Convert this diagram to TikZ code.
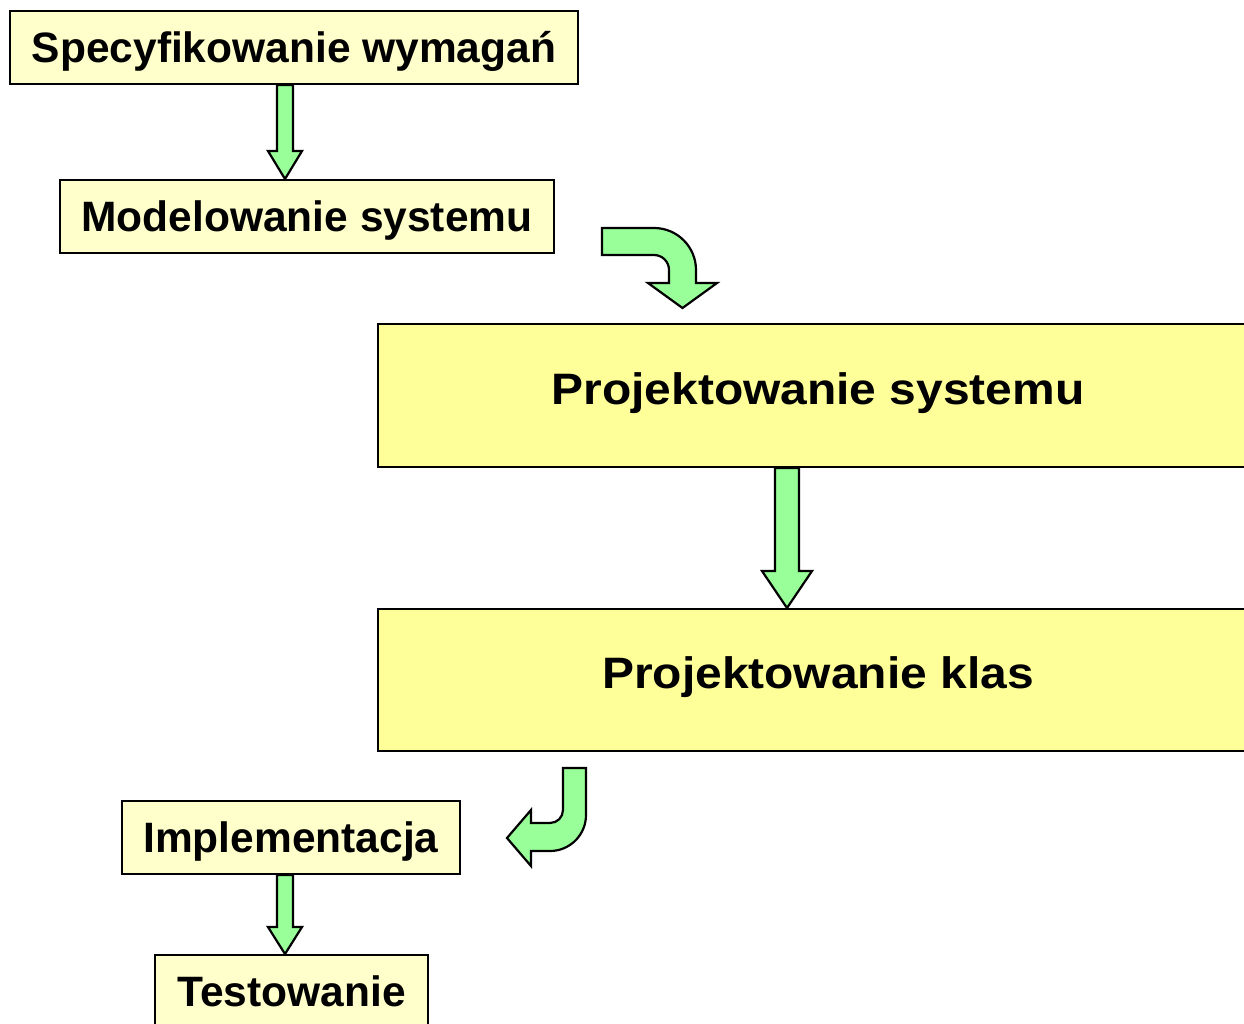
\documentclass[tikz,border=0pt]{standalone}
\usepackage{fontspec}
\setmainfont{Liberation Sans}
\newfontfamily\widesans[FakeStretch=1.09]{Liberation Sans}
\usetikzlibrary{calc}
\definecolor{boxpale}{HTML}{FFFFCC}
\definecolor{boxbig}{HTML}{FFFF99}
\definecolor{flowgreen}{HTML}{99FF99}
\begin{document}
\begin{tikzpicture}[x=1pt,y=-1pt,
  stage/.style={draw=black,line width=2pt,fill=boxpale,inner sep=0pt,
    minimum height=73pt,text height=30.4pt,text depth=0pt,
    font=\bfseries\fontsize{42.5}{48}\selectfont},
  bigstage/.style={draw=black,line width=2pt,fill=boxbig,inner sep=0pt,
    text height=31.5pt,text depth=14pt,
    font=\widesans\bfseries\fontsize{44}{50}\selectfont},
  garrow/.style={draw=black,line width=2.2pt,fill=flowgreen,line join=miter}]
\useasboundingbox (0,0) rectangle (1244,1024);
\clip (0,0) rectangle (1244,1024);

% process stages
\node[stage,minimum width=568pt] (spec) at (294,47.5) {Specyfikowanie wymagań};
\node[stage,minimum width=494pt] (mod) at (307,216.5) {Modelowanie systemu};
\node[bigstage,minimum width=880pt,minimum height=143pt] (psys) at (818,395.5) {Projektowanie systemu};
\node[bigstage,minimum width=880pt,minimum height=142pt] (pkl) at (818,680) {Projektowanie klas};
\node[stage,minimum width=338pt] (impl) at (291,837.5) {Implementacja};
\node[stage,minimum width=273pt] (test) at (291.5,991.5) {Testowanie};

% straight flow arrows
\draw[garrow] (spec.south -| 277,0) -- (spec.south -| 293,0)
  -- ($(mod.north -| 293,0)+(0,-28)$) -- ($(mod.north -| 302,0)+(0,-28)$)
  -- (mod.north -| 285,0)
  -- ($(mod.north -| 268,0)+(0,-28)$) -- ($(mod.north -| 277,0)+(0,-28)$) -- cycle;
\draw[garrow] (psys.south -| 775,0) -- (psys.south -| 799,0)
  -- ($(pkl.north -| 799,0)+(0,-37)$) -- ($(pkl.north -| 812,0)+(0,-37)$)
  -- (pkl.north -| 787,0)
  -- ($(pkl.north -| 762,0)+(0,-37)$) -- ($(pkl.north -| 775,0)+(0,-37)$) -- cycle;
\draw[garrow] (impl.south -| 277,0) -- (impl.south -| 293,0)
  -- ($(test.north -| 293,0)+(0,-27)$) -- ($(test.north -| 302,0)+(0,-27)$)
  -- (test.north -| 285,0)
  -- ($(test.north -| 268,0)+(0,-27)$) -- ($(test.north -| 277,0)+(0,-27)$) -- cycle;

% bent arrow turning down towards the design stage
\draw[garrow] (602,228) -- (654,228) .. controls (677.2,228) and (696,246.8) .. (696,270)
  -- (696,283) -- (717,283) -- (682.5,308) -- (648,283) -- (669,283) -- (669,270)
  .. controls (669,261.7) and (662.3,255) .. (654,255) -- (602,255) -- cycle;

% bent arrow turning left towards implementation
\draw[garrow] (563,768) -- (586,768) -- (586,815) .. controls (586,834.9) and (569.9,851) .. (550,851)
  -- (531,851) -- (531,866) -- (507,838) -- (531,810) -- (531,823) -- (550,823)
  .. controls (557.2,823) and (563,817.2) .. (563,810) -- cycle;
\end{tikzpicture}
\end{document}
